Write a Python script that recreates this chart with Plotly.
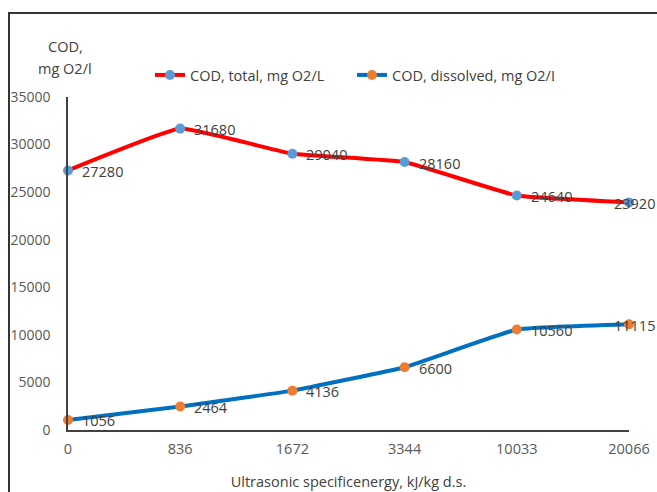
import plotly.graph_objects as go

categories = ["0", "836", "1672", "3344", "10033", "20066"]
cod_total = [27280, 31680, 29040, 28160, 24640, 23920]
cod_dissolved = [1056, 2464, 4136, 6600, 10560, 11115]
series_names = ["COD, total, mg O2/L", "COD, dissolved, mg O2/L"]
y_ticks = [0, 5000, 10000, 15000, 20000, 25000, 30000, 35000]

W, H = 657, 492
L, R, T, B = 68, 28, 97, 62
pw, ph = W - L - R, H - T - B
FONT = "Open Sans"
TXT = "#595959"

def px_x(p):
    return (p - L) / pw

def px_y(p):
    return (H - B - p) / ph

x_idx = list(range(len(categories)))

fig = go.Figure()
fig.add_trace(go.Scatter(
    x=x_idx, y=cod_total, name=series_names[0], mode="lines+markers",
    line=dict(color="#FF0000", width=4, shape="spline", smoothing=0.3),
    marker=dict(color="#5B9BD5", size=10), cliponaxis=False,
))
fig.add_trace(go.Scatter(
    x=x_idx, y=cod_dissolved, name=series_names[1], mode="lines+markers",
    line=dict(color="#0070C0", width=4, shape="spline", smoothing=0.3),
    marker=dict(color="#ED7D31", size=10), cliponaxis=False,
))

last = len(x_idx) - 1
for series in (cod_total, cod_dissolved):
    for xi, v in zip(x_idx, series):
        fig.add_annotation(x=xi, y=v, text=str(v), showarrow=False,
                           xanchor="left", yanchor="middle",
                           xshift=(-17 if xi == last else 12), yshift=-1,
                           font=dict(family=FONT, size=14.5, color="#404040"))

fig.add_annotation(xref="paper", yref="paper", x=px_x(65), y=px_y(46),
                   text="COD,", showarrow=False, xanchor="center", yanchor="middle",
                   font=dict(family=FONT, size=14.5, color="#404040"))
fig.add_annotation(xref="paper", yref="paper", x=px_x(65), y=px_y(69),
                   text="mg O2/l", showarrow=False, xanchor="center", yanchor="middle",
                   font=dict(family=FONT, size=14.5, color="#404040"))

fig.add_shape(type="rect", xref="paper", yref="paper",
              x0=px_x(9), x1=px_x(700), y0=px_y(540), y1=px_y(13),
              line=dict(color="#333333", width=2), fillcolor="rgba(0,0,0,0)")

fig.update_layout(
    width=W, height=H,
    margin=dict(l=L, r=R, t=T, b=B, autoexpand=False),
    paper_bgcolor="white", plot_bgcolor="white",
    font=dict(family=FONT, size=14.5, color=TXT),
    showlegend=True,
    legend=dict(orientation="h", x=px_x(150), y=px_y(75), xanchor="left", yanchor="middle",
                entrywidth=157, entrywidthmode="pixels",
                font=dict(family=FONT, size=14.5, color="#404040"),
                bgcolor="rgba(0,0,0,0)"),
    xaxis=dict(range=[0, 5], tickmode="array", tickvals=x_idx, ticktext=categories,
               automargin=False,
               showgrid=False, zeroline=False, showline=True, linecolor="#404040", linewidth=1.5,
               ticks="", ticklabelstandoff=5,
               title=dict(text="Ultrasonic specificenergy, kJ/kg d.s.", standoff=20,
                          font=dict(family=FONT, size=14.5, color="#404040"))),
    yaxis=dict(range=[0, 35000], tickmode="array", tickvals=y_ticks, tickformat="d",
               automargin=False, tickfont=dict(size=14),
               showgrid=False, zeroline=False, showline=True, linecolor="#404040", linewidth=1.5,
               ticks="", ticklabelstandoff=13),
)

fig.write_html("out.html", config={"displayModeBar": False},
               post_script="document.body.style.margin='0';document.documentElement.style.overflow='hidden';")
